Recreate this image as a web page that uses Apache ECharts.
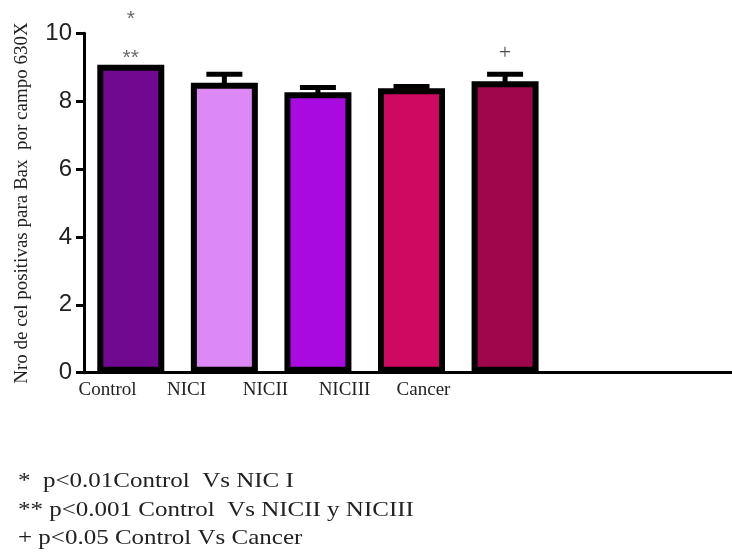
<!DOCTYPE html>
<html>
<head>
<meta charset="utf-8">
<script src="https://cdn.jsdelivr.net/npm/echarts@6/dist/echarts.min.js"></script>
<style>
  html, body { margin: 0; padding: 0; background: #fff; }
  #chart { width: 732px; height: 555px; }
</style>
</head>
<body>
<div id="chart"></div>
<script>
// groups shown under the axis, bars sit in the first five slots of seven
const groups = ['Control', 'NICI', 'NICII', 'NICIII', 'Cancer'];
const slots = ['Control', 'NICI', 'NICII', 'NICIII', 'Cancer', '', ''];
const means = [9.07, 8.54, 8.26, 8.38, 8.59];
const errors = [0, 0.25, 0.14, 0.05, 0.2];
const colors = ['#700890', '#dc88f5', '#a90ae0', '#cf0862', '#9f064b'];
const yTicks = [0, 2, 4, 6, 8, 10];

// significance marks above the bars: [slot, value, text]
const marks = [
  ['Control', 10.42, '*'],
  ['Control', 9.28, '**'],
  ['Cancer', 9.42, '+']
];

const footnotes = [
  '*  p<0.01Control  Vs NIC I',
  '** p<0.001 Control  Vs NICII y NICIII',
  '+ p<0.05 Control Vs Cancer'
];

const serif = '"Liberation Serif", "DejaVu Serif", serif';
const sans = '"Liberation Sans", Arial, sans-serif';

const chart = echarts.init(document.getElementById('chart'), null, { renderer: 'canvas' });

const option = {
  animation: false,
  backgroundColor: '#fff',
  grid: [
    { left: 84, right: -7, top: 33.3, bottom: 182.3, containLabel: false, outerBoundsMode: 'none' },
    { left: 68, width: 395, top: 33.3, bottom: 182.3, containLabel: false, outerBoundsMode: 'none' }
  ],
  xAxis: [
    {
      type: 'category',
      data: slots,
      gridIndex: 0,
      axisLine: { lineStyle: { color: '#000', width: 3 } },
      axisTick: { show: false },
      axisLabel: { show: false }
    },
    {
      type: 'category',
      data: groups,
      gridIndex: 1,
      axisLine: { show: false },
      axisTick: { show: false },
      axisLabel: {
        margin: 8,
        fontFamily: serif,
        fontSize: 19,
        color: '#222'
      }
    }
  ],
  yAxis: [
    {
      type: 'value',
      gridIndex: 0,
      min: 0,
      max: 10,
      interval: 2,
      splitLine: { show: false },
      axisLine: { show: true, lineStyle: { color: '#000', width: 3 } },
      axisTick: { show: true, length: 8, lineStyle: { color: '#000', width: 3 } },
      axisLabel: {
        margin: 12,
        fontFamily: sans,
        fontSize: 24,
        color: '#222',
        formatter: v => (yTicks.includes(v) ? String(v) : '')
      },
      name: 'Nro de cel positivas para Bax  por campo 630X',
      nameLocation: 'middle',
      nameGap: 52,
      nameRotate: 90,
      nameTextStyle: { fontFamily: serif, fontSize: 19, color: '#222' }
    },
    {
      type: 'value',
      gridIndex: 1,
      min: 0,
      max: 10,
      show: false
    }
  ],
  series: [
    {
      type: 'custom',
      xAxisIndex: 0,
      yAxisIndex: 0,
      z: 1,
      data: means.map((m, i) => [i, m, m + errors[i]]),
      renderItem: (params, api) => {
        const i = api.value(0);
        if (errors[i] <= 0) return null;
        const base = api.coord([i, api.value(1)]);
        const top = api.coord([i, api.value(2)]);
        const half = 18;
        const style = { stroke: '#000', lineWidth: 5 };
        return {
          type: 'group',
          children: [
            { type: 'line', shape: { x1: base[0], y1: base[1] + 4, x2: top[0], y2: top[1] }, style },
            { type: 'line', shape: { x1: top[0] - half, y1: top[1], x2: top[0] + half, y2: top[1] }, style }
          ]
        };
      }
    },
    {
      type: 'bar',
      xAxisIndex: 0,
      yAxisIndex: 0,
      z: 2,
      barWidth: 67,
      data: means.map((m, i) => ({
        value: m,
        itemStyle: { color: colors[i], borderColor: '#000', borderWidth: 6 }
      }))
    },
    {
      type: 'scatter',
      xAxisIndex: 0,
      yAxisIndex: 0,
      z: 3,
      clip: false,
      symbolSize: 0,
      silent: true,
      data: marks.map(d => ({
        value: [d[0], d[1]],
        label: {
          show: true,
          position: 'inside',
          formatter: d[2],
          fontFamily: d[2] === '+' ? serif : sans,
          fontSize: d[2] === '+' ? 22 : 21,
          color: d[2] === '+' ? '#222' : '#444'
        }
      }))
    }
  ],
  graphic: footnotes.map((t, i) => ({
    type: 'text',
    left: 18,
    top: 471 + i * 28.5,
    scaleX: 1.19,
    style: {
      text: t,
      fontFamily: serif,
      fontSize: 21,
      fill: '#222'
    }
  }))
};

chart.setOption(option);
</script>
</body>
</html>
